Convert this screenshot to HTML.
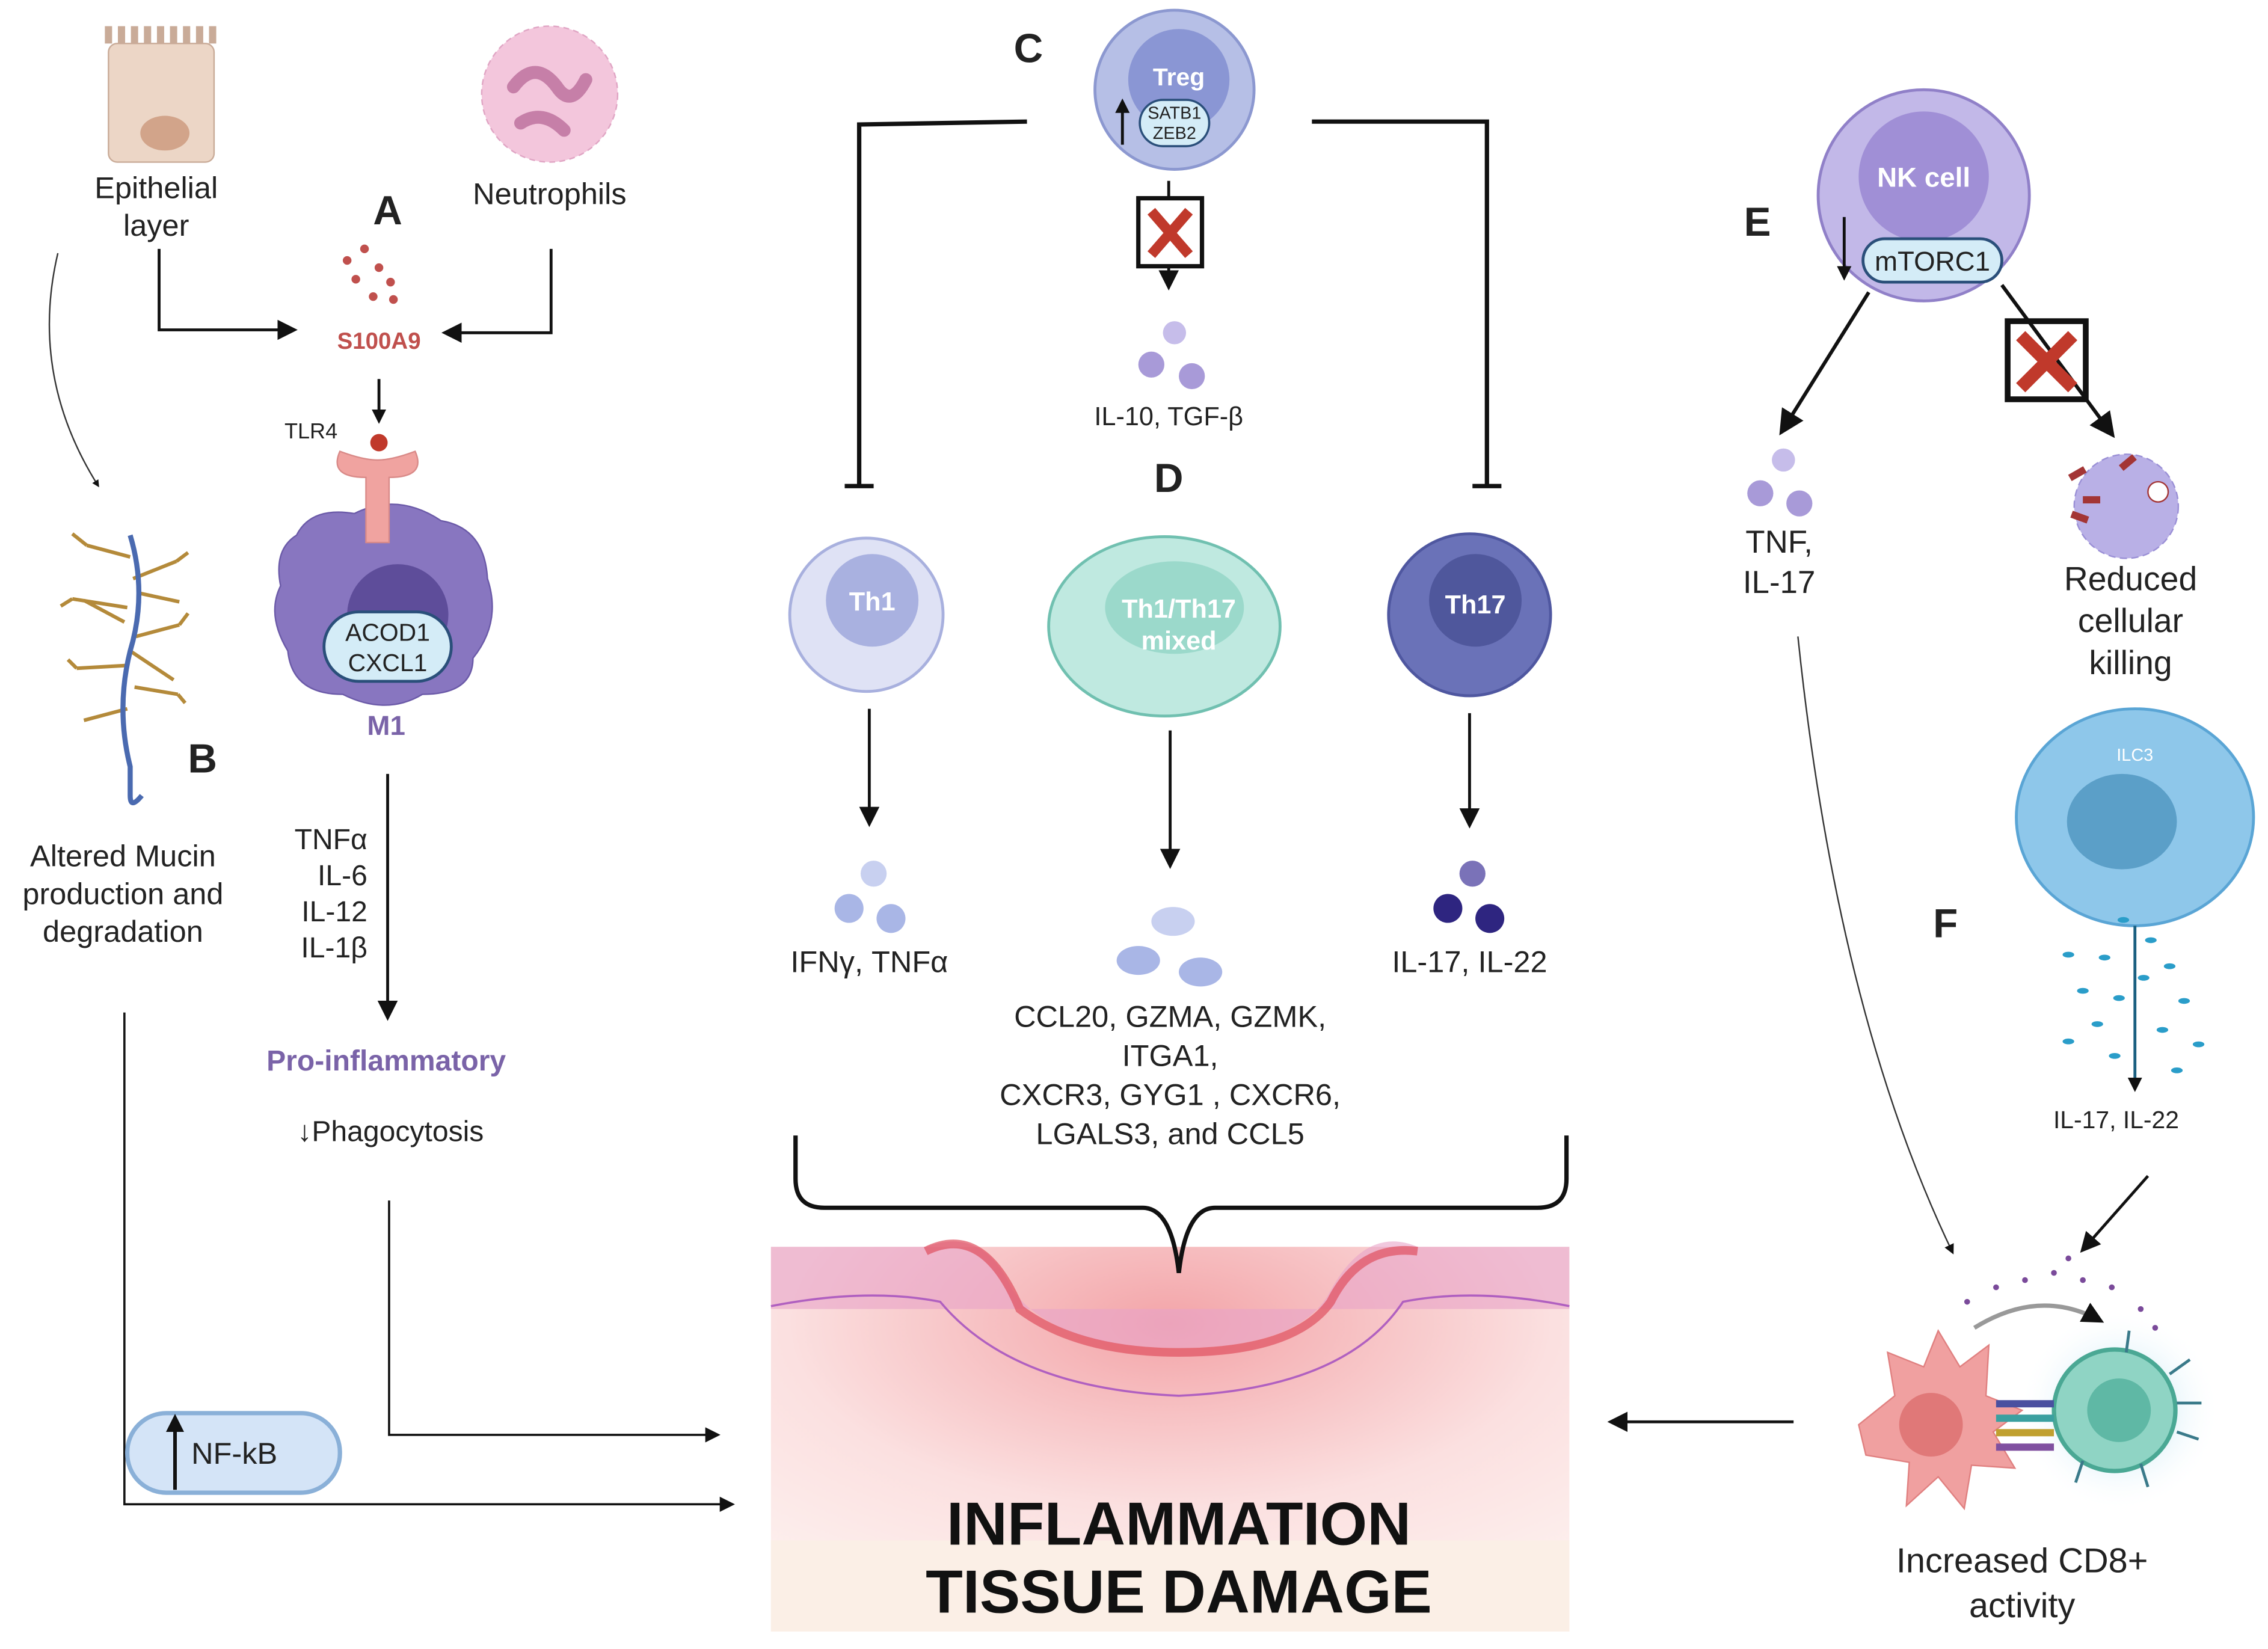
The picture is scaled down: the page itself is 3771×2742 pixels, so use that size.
<!DOCTYPE html>
<html><head><meta charset="utf-8"><style>html,body{margin:0;padding:0;background:#fff}svg{display:block}text{font-family:"Liberation Sans",sans-serif}</style></head>
<body>
<svg width="3771" height="2742" viewBox="0 0 1568 1140" xmlns="http://www.w3.org/2000/svg">
<defs>
<marker id="ar" viewBox="0 0 10 10" refX="8" refY="5" markerWidth="5" markerHeight="5" orient="auto"><path d="M0,0 L10,5 L0,10 z" fill="#111"/></marker>
<marker id="ar2" viewBox="0 0 10 10" refX="8" refY="5" markerWidth="7" markerHeight="7" orient="auto"><path d="M0,0 L10,5 L0,10 z" fill="#111"/></marker>
<radialGradient id="tis" cx="0.5" cy="0.2" r="0.8"><stop offset="0" stop-color="#f3a4a8"/><stop offset="0.6" stop-color="#fbe0e0"/><stop offset="1" stop-color="#fdf0ee"/></radialGradient>
<radialGradient id="glow"><stop offset="0" stop-color="#9fd6ee"/><stop offset="1" stop-color="#fff" stop-opacity="0"/></radialGradient>
</defs>
<g font-size="21" fill="#222" text-anchor="middle">
<!-- Epithelial -->
<rect x="75" y="30" width="73" height="82" rx="6" fill="#ecd6c6" stroke="#c9ab98"/>
<path d="M75,30 v-12 M84,30 v-12 M93,30 v-12 M102,30 v-12 M111,30 v-12 M120,30 v-12 M129,30 v-12 M138,30 v-12 M147,30 v-12" stroke="#c9ab98" stroke-width="5"/>
<ellipse cx="114" cy="92" rx="17" ry="12" fill="#d2a48a"/>
<text x="108" y="137">Epithelial</text><text x="108" y="163">layer</text>
<!-- Neutrophil -->
<circle cx="380" cy="65" r="47" fill="#f3c6dc" stroke="#e0a5c4" stroke-dasharray="4 3"/>
<path d="M355,60 q15,-20 30,0 q10,15 20,-5 M360,85 q15,-10 30,5" stroke="#c67fa8" stroke-width="9" fill="none" stroke-linecap="round"/>
<text x="380" y="141">Neutrophils</text>
<text x="268" y="155" font-size="28" font-weight="bold">A</text>
<g fill="#c0504d"><circle cx="252" cy="172" r="3"/><circle cx="240" cy="180" r="3"/><circle cx="262" cy="185" r="3"/><circle cx="270" cy="195" r="3"/><circle cx="258" cy="205" r="3"/><circle cx="272" cy="207" r="3"/><circle cx="246" cy="193" r="3"/></g>
<text x="262" y="241" font-size="16" font-weight="bold" fill="#c0504d">S100A9</text>
<path d="M110,172 V228 H203" stroke="#111" stroke-width="2" fill="none" marker-end="url(#ar2)"/>
<path d="M381,172 V230 H308" stroke="#111" stroke-width="2" fill="none" marker-end="url(#ar2)"/>
<path d="M262,262 V291" stroke="#111" stroke-width="2" marker-end="url(#ar)"/>
<text x="215" y="303" font-size="15">TLR4</text>
<!-- M1 -->
<path d="M205,370 q10,-20 40,-15 q30,-15 60,5 q30,5 32,40 q10,30 -10,55 q0,25 -35,25 q-25,15 -55,0 q-35,0 -38,-30 q-15,-25 -5,-45 q-5,-25 11,-35z" fill="#8876c0" stroke="#6b5aa8"/>
<circle cx="275" cy="425" r="35" fill="#5e4d9a"/>
<path d="M235,312 q-8,18 18,18 v45 h16 v-45 q26,0 18,-18 q-16,6 -26,6 q-10,0 -26,-6z" fill="#f0a3a0" stroke="#d98a88"/>
<circle cx="262" cy="306" r="6" fill="#c0392b"/>
<rect x="224" y="423" width="88" height="48" rx="24" fill="#d4ecf7" stroke="#2a4f7a" stroke-width="2"/>
<text x="268" y="443" font-size="17">ACOD1</text><text x="268" y="464" font-size="17">CXCL1</text>
<text x="267" y="508" font-size="19" font-weight="bold" fill="#7a63a8">M1</text>
<path d="M268,535 V703" stroke="#111" stroke-width="2" marker-end="url(#ar2)"/>
<g text-anchor="end" font-size="20"><text x="254" y="587">TNFα</text><text x="254" y="612">IL-6</text><text x="254" y="637">IL-12</text><text x="254" y="662">IL-1β</text></g>
<text x="267" y="740" font-size="20" font-weight="bold" fill="#7a63a8">Pro-inflammatory</text>
<text x="270" y="789" font-size="20">↓Phagocytosis</text>
<path d="M269,830 V992 H496" stroke="#111" stroke-width="1.5" fill="none" marker-end="url(#ar2)"/>
<!-- Mucin -->
<path d="M40,175 Q20,260 68,336" stroke="#333" stroke-width="1" fill="none" marker-end="url(#ar)"/>
<g stroke="#b48a3a" stroke-width="2.5" fill="none">
<path d="M90,385 l-30,-8 M92,400 l30,-12 M88,420 l-38,-6 M94,440 l30,-8 M88,460 l-35,2 M93,475 l30,5 M88,490 l-30,8 M96,410 l28,6 M86,430 l-28,-15 M90,450 l30,20"/>
<path d="M60,377 l-10,-8 M122,388 l8,-6 M50,414 l-8,5 M124,432 l6,-8 M53,462 l-6,-6 M123,480 l5,6"/></g>
<path d="M90,370 q12,40 0,80 q-10,40 0,80 v20 q0,10 8,0" stroke="#4a6ab0" stroke-width="3.5" fill="none"/>
<text x="140" y="534" font-size="28" font-weight="bold">B</text>
<text x="85" y="599">Altered Mucin</text><text x="85" y="625">production and</text><text x="85" y="651">degradation</text>
<path d="M86,700 V1040 H506" stroke="#111" stroke-width="1.5" fill="none" marker-end="url(#ar2)"/>
<rect x="88" y="977" width="147" height="55" rx="27" fill="#d4e4f7" stroke="#8ab0d8" stroke-width="3"/>
<path d="M121,1030 V980" stroke="#111" stroke-width="2.5" marker-end="url(#ar)"/>
<text x="162" y="1012" font-size="21">NF-kB</text>
<!-- Tissue -->
<rect x="533" y="862" width="552" height="266" fill="url(#tis)"/>
<path d="M533,862 H640 q40,-15 60,30 q30,40 115,40 q85,0 105,-40 q25,-45 60,-30 H1085 V905 H533z" fill="#e8a4c8" opacity="0.6"/>
<path d="M533,903 Q600,890 650,900 Q700,960 815,965 Q930,960 970,900 Q1020,890 1085,903" stroke="#b060c0" stroke-width="1.5" fill="none"/>
<path d="M640,865 q40,-20 65,40 q40,30 110,30 q80,0 105,-35 q20,-40 60,-35" stroke="#e05060" stroke-width="6" fill="none" opacity="0.7"/>
<rect x="533" y="1065" width="552" height="63" fill="#fbefe6"/>
<text x="815" y="1068" font-size="42" font-weight="bold" fill="#111">INFLAMMATION</text>
<text x="815" y="1115" font-size="42" font-weight="bold" fill="#111">TISSUE DAMAGE</text>
<path d="M550,785 V815 q0,20 20,20 H790 q20,0 25,45 q5,-45 25,-45 H1063 q20,0 20,-20 V785" stroke="#111" stroke-width="3" fill="none"/>
<!-- C Treg -->
<text x="711" y="43" font-size="28" font-weight="bold">C</text>
<circle cx="812" cy="62" r="55" fill="#b6bfe6" stroke="#8c98d0" stroke-width="2"/>
<circle cx="815" cy="55" r="35" fill="#8a96d4"/>
<text x="815" y="59" font-size="17" font-weight="bold" fill="#fff">Treg</text>
<rect x="788" y="69" width="48" height="32" rx="16" fill="#d4ecf7" stroke="#2a4f7a" stroke-width="1.5"/>
<text x="812" y="82" font-size="12">SATB1</text><text x="812" y="96" font-size="12">ZEB2</text>
<path d="M776,100 V70" stroke="#111" stroke-width="2" marker-end="url(#ar)"/>
<path d="M710,84 L594,86 V336 M584,336 H604" stroke="#111" stroke-width="3" fill="none"/>
<path d="M907,84 H1028 V336 M1018,336 H1038" stroke="#111" stroke-width="3" fill="none"/>
<path d="M808,125 V198" stroke="#111" stroke-width="2" marker-end="url(#ar2)"/>
<rect x="787" y="137" width="44" height="47" fill="#fff" stroke="#111" stroke-width="3"/>
<path d="M796,146 l26,30 M822,146 l-26,30" stroke="#c0392b" stroke-width="7"/>
<g fill="#a89ad8"><circle cx="812" cy="230" r="8" fill="#c6bdea"/><circle cx="796" cy="252" r="9"/><circle cx="824" cy="260" r="9"/></g>
<text x="808" y="294" font-size="18">IL-10, TGF-β</text>
<text x="808" y="340" font-size="28" font-weight="bold">D</text>
<!-- Th cells -->
<circle cx="599" cy="425" r="53" fill="#dfe2f5" stroke="#a8b0de" stroke-width="2"/>
<circle cx="603" cy="415" r="32" fill="#a9b1e0"/>
<text x="603" y="422" font-size="18" font-weight="bold" fill="#fff">Th1</text>
<ellipse cx="805" cy="433" rx="80" ry="62" fill="#bfe9e0" stroke="#70c0b0" stroke-width="2"/>
<ellipse cx="812" cy="420" rx="48" ry="32" fill="#9bd9cb"/>
<text x="815" y="427" font-size="18" font-weight="bold" fill="#fff">Th1/Th17</text><text x="815" y="449" font-size="18" font-weight="bold" fill="#fff">mixed</text>
<circle cx="1016" cy="425" r="56" fill="#6a72b8" stroke="#4f57a0" stroke-width="2"/>
<circle cx="1020" cy="415" r="32" fill="#4f579c"/>
<text x="1020" y="424" font-size="18" font-weight="bold" fill="#fff">Th17</text>
<path d="M601,490 V569" stroke="#111" stroke-width="2" marker-end="url(#ar2)"/>
<path d="M809,505 V598" stroke="#111" stroke-width="2" marker-end="url(#ar2)"/>
<path d="M1016,493 V570" stroke="#111" stroke-width="2" marker-end="url(#ar2)"/>
<g fill="#a9b6e6"><circle cx="604" cy="604" r="9" fill="#c8d0f0"/><circle cx="587" cy="628" r="10"/><circle cx="616" cy="635" r="10"/></g>
<text x="601" y="672">IFNγ, TNFα</text>
<g fill="#a9b6e6"><ellipse cx="811" cy="637" rx="15" ry="10" fill="#c8d0f0"/><ellipse cx="787" cy="664" rx="15" ry="10"/><ellipse cx="830" cy="672" rx="15" ry="10"/></g>
<g font-size="21"><text x="809" y="710">CCL20, GZMA, GZMK,</text><text x="809" y="737">ITGA1,</text><text x="809" y="764">CXCR3, GYG1 , CXCR6,</text><text x="809" y="791">LGALS3, and CCL5</text></g>
<g fill="#2e2580"><circle cx="1018" cy="604" r="9" fill="#7a72b8"/><circle cx="1001" cy="628" r="10"/><circle cx="1030" cy="635" r="10"/></g>
<text x="1016" y="672">IL-17, IL-22</text>
<!-- NK -->
<circle cx="1330" cy="135" r="73" fill="#c2b8e8" stroke="#9080c8" stroke-width="2"/>
<circle cx="1330" cy="122" r="45" fill="#a08fd6"/>
<text x="1330" y="129" font-size="19" font-weight="bold" fill="#fff">NK cell</text>
<rect x="1288" y="165" width="96" height="30" rx="15" fill="#d4ecf7" stroke="#2a4f7a" stroke-width="2"/>
<text x="1336" y="187" font-size="19">mTORC1</text>
<path d="M1275,150 V192" stroke="#111" stroke-width="2" marker-end="url(#ar)"/>
<text x="1215" y="163" font-size="28" font-weight="bold">E</text>
<path d="M1292,202 L1232,298" stroke="#111" stroke-width="2.5" marker-end="url(#ar2)"/>
<path d="M1384,197 L1460,300" stroke="#111" stroke-width="2.5" marker-end="url(#ar2)"/>
<rect x="1388" y="222" width="54" height="54" fill="#fff" fill-opacity="0" stroke="#111" stroke-width="4"/>
<path d="M1397,232 l36,36 M1433,232 l-36,36" stroke="#c0392b" stroke-width="9"/>
<g fill="#a89ad8"><circle cx="1233" cy="318" r="8" fill="#c6bdea"/><circle cx="1217" cy="341" r="9"/><circle cx="1244" cy="348" r="9"/></g>
<text x="1230" y="382" font-size="22">TNF,</text><text x="1230" y="410" font-size="22">IL-17</text>
<circle cx="1470" cy="350" r="36" fill="#b9b0e6" stroke="#9a8fd6" stroke-dasharray="5 3"/>
<g fill="#a33535"><rect x="1430" y="325" width="12" height="5" transform="rotate(-30 1436 327)"/><rect x="1440" y="343" width="12" height="5"/><rect x="1432" y="355" width="12" height="5" transform="rotate(20 1438 357)"/><rect x="1465" y="318" width="12" height="5" transform="rotate(-40 1470 320)"/><circle cx="1492" cy="340" r="7" fill="#fff" stroke="#a33535"/></g>
<text x="1473" y="408" font-size="23">Reduced</text><text x="1473" y="437" font-size="23">cellular</text><text x="1473" y="466" font-size="23">killing</text>
<!-- ILC3 -->
<ellipse cx="1476" cy="565" rx="82" ry="75" fill="#8ec7ea" stroke="#5aa5d5" stroke-width="2"/>
<ellipse cx="1467" cy="568" rx="38" ry="33" fill="#5b9fc8"/>
<text x="1476" y="526" font-size="12" fill="#fff">ILC3</text>
<text x="1345" y="648" font-size="28" font-weight="bold">F</text>
<g fill="#2a9dc9"><ellipse cx="1468" cy="636" rx="4" ry="2"/><ellipse cx="1487" cy="650" rx="4" ry="2"/><ellipse cx="1455" cy="662" rx="4" ry="2"/><ellipse cx="1500" cy="668" rx="4" ry="2"/><ellipse cx="1440" cy="685" rx="4" ry="2"/><ellipse cx="1465" cy="690" rx="4" ry="2"/><ellipse cx="1510" cy="692" rx="4" ry="2"/><ellipse cx="1450" cy="708" rx="4" ry="2"/><ellipse cx="1495" cy="712" rx="4" ry="2"/><ellipse cx="1430" cy="720" rx="4" ry="2"/><ellipse cx="1520" cy="722" rx="4" ry="2"/><ellipse cx="1462" cy="730" rx="4" ry="2"/><ellipse cx="1505" cy="740" rx="4" ry="2"/><ellipse cx="1482" cy="676" rx="4" ry="2"/><ellipse cx="1430" cy="660" rx="4" ry="2"/></g>
<path d="M1476,640 V753" stroke="#1a5f80" stroke-width="2" marker-end="url(#ar)"/>
<text x="1463" y="780" font-size="17">IL-17, IL-22</text>
<path d="M1485,813 L1440,864" stroke="#111" stroke-width="2" marker-end="url(#ar2)"/>
<path d="M1243,440 Q1270,700 1350,866" stroke="#333" stroke-width="1" fill="none" marker-end="url(#ar2)"/>
<!-- CD8 -->
<circle cx="1465" cy="975" r="70" fill="url(#glow)"/>
<path d="M1285,985 l25,-20 l-5,-30 l25,10 l10,-25 l15,25 l20,-15 l-2,35 l25,10 l-20,15 l15,25 l-30,-2 l-5,30 l-18,-22 l-22,20 l2,-30 l-30,-5 z" fill="#f0a0a0" stroke="#e08080"/>
<circle cx="1335" cy="985" r="22" fill="#e07878"/>
<circle cx="1462" cy="975" r="42" fill="#8fd4c4" stroke="#4aa894" stroke-width="3"/>
<circle cx="1465" cy="975" r="22" fill="#5fb8a5"/>
<g stroke="#3a7a8a" stroke-width="2"><path d="M1500,950 l14,-10 M1505,990 l15,5 M1480,1012 l5,16 M1440,1010 l-5,15 M1470,935 l2,-15 M1505,970 l17,0"/></g>
<g fill="#4a50a0"><rect x="1380" y="968" width="40" height="5"/><rect x="1380" y="978" width="40" height="5" fill="#3aa0a0"/><rect x="1380" y="988" width="40" height="5" fill="#c0a030"/><rect x="1380" y="998" width="40" height="5" fill="#8050a0"/></g>
<path d="M1365,918 Q1410,890 1452,913" stroke="#999" stroke-width="3" fill="none" marker-end="url(#ar)"/>
<g fill="#7a4a9a"><circle cx="1380" cy="890" r="2"/><circle cx="1400" cy="885" r="2"/><circle cx="1420" cy="880" r="2"/><circle cx="1440" cy="885" r="2"/><circle cx="1460" cy="890" r="2"/><circle cx="1480" cy="905" r="2"/><circle cx="1360" cy="900" r="2"/><circle cx="1430" cy="870" r="2"/><circle cx="1490" cy="918" r="2"/></g>
<text x="1398" y="1087" font-size="24">Increased CD8+</text><text x="1398" y="1118" font-size="24">activity</text>
<path d="M1240,983 H1114" stroke="#111" stroke-width="2" marker-end="url(#ar2)"/>
</g>
</svg>
</body></html>
